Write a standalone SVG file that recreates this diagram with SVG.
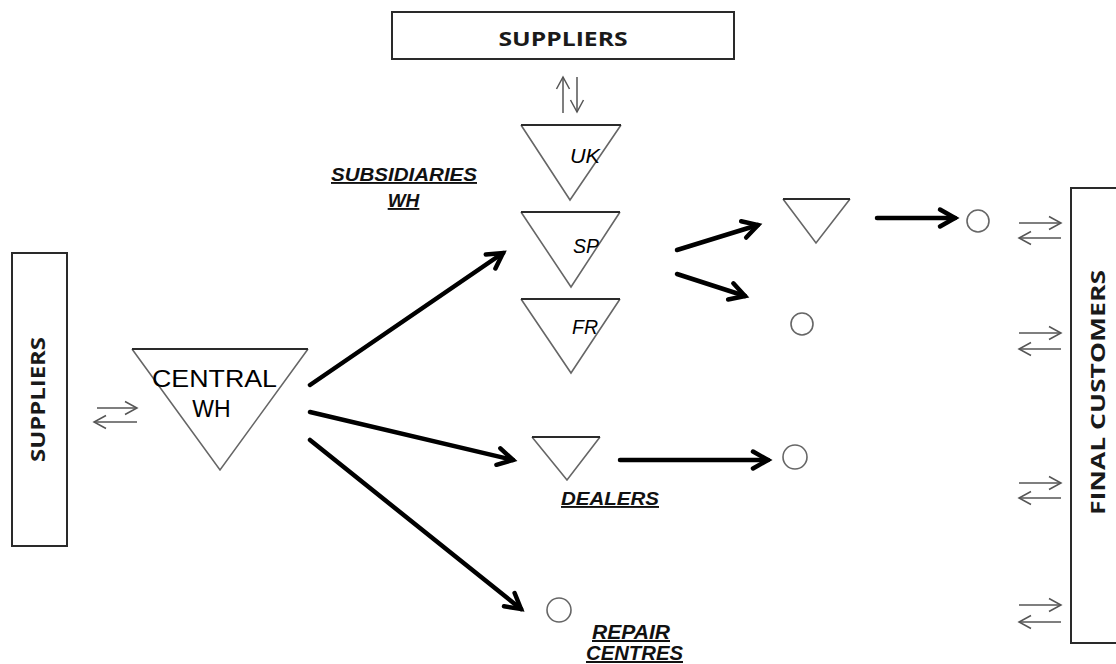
<svg xmlns="http://www.w3.org/2000/svg" width="1116" height="664" viewBox="0 0 1116 664">
<style>
.box{fill:none;stroke:#2a2a2a;stroke-width:2}
.boxlbl{font-family:"Open Sans","Noto Sans",sans-serif;font-weight:700;font-size:20px;fill:#1a1a1a}
.tri{fill:none;stroke:#666;stroke-width:1.6;stroke-linejoin:miter}
.tritop{stroke:#2a2a2a;stroke-width:2.2}
.circ{fill:none;stroke:#666;stroke-width:1.6}
.ital{font-family:"Liberation Sans",Arial,sans-serif;font-style:italic;font-size:20px;fill:#000}
.lbl{font-family:"Liberation Sans",Arial,sans-serif;font-style:italic;font-weight:700;font-size:19px;fill:#111;text-decoration:underline}
.cw{font-family:"Liberation Sans",Arial,sans-serif;font-size:23px;fill:#000}
.thick{stroke:#000;stroke-width:4.5;fill:none;stroke-linecap:round;marker-end:url(#hd)}
.thin{stroke:#555;stroke-width:1.5;fill:none;marker-end:url(#th)}
</style>
<defs>
<marker id="hd" markerUnits="userSpaceOnUse" viewBox="-20 -15 30 30" markerWidth="30" markerHeight="30" refX="0" refY="0" orient="auto" overflow="visible">
<path d="M-15,-8.5 L0,0 L-15,8.5" fill="none" stroke="#000" stroke-width="4.5" stroke-linecap="round"/>
</marker>
<marker id="th" markerUnits="userSpaceOnUse" viewBox="-15 -10 20 20" markerWidth="20" markerHeight="20" refX="0" refY="0" orient="auto" overflow="visible">
<path d="M-12,-6.5 L0,0 L-12,6.5" fill="none" stroke="#555" stroke-width="1.5"/>
</marker>
</defs>

<g id="suppliers-top">
<rect class="box" x="392" y="12" width="342" height="47"/>
<text class="boxlbl" x="563" y="46" text-anchor="middle" textLength="129" lengthAdjust="spacingAndGlyphs">SUPPLIERS</text>
</g>
<g id="suppliers-left">
<rect class="box" x="12" y="253" width="55" height="293"/>
<text class="boxlbl" transform="translate(45,399.5) rotate(-90)" x="0" y="0" text-anchor="middle" textLength="125" lengthAdjust="spacingAndGlyphs">SUPPLIERS</text>
</g>
<g id="final-customers">
<rect class="box" x="1071" y="188" width="60" height="455"/>
<text class="boxlbl" transform="translate(1105,392.5) rotate(-90)" x="0" y="0" text-anchor="middle" textLength="245" lengthAdjust="spacingAndGlyphs">FINAL CUSTOMERS</text>
</g>

<g id="central-wh">
<path class="tri" d="M132,349 L220,470 L308,349"/>
<line class="tri tritop" x1="132" y1="349" x2="308" y2="349"/>
<text class="cw" x="214.5" y="387" text-anchor="middle" textLength="125" lengthAdjust="spacingAndGlyphs">CENTRAL</text>
<text class="cw" x="211.5" y="417" text-anchor="middle">WH</text>
</g>

<g id="subsidiaries-label">
<text class="lbl" x="404" y="181" text-anchor="middle" textLength="146" lengthAdjust="spacingAndGlyphs">SUBSIDIARIES</text>
<text class="lbl" x="403.5" y="207" text-anchor="middle">WH</text>
</g>

<g id="uk">
<path class="tri" d="M521,125 L570,200 L621,125"/>
<line class="tri tritop" x1="521" y1="125" x2="621" y2="125"/>
<text class="ital" x="570" y="163" textLength="30" lengthAdjust="spacingAndGlyphs">UK</text>
</g>
<g id="sp">
<path class="tri" d="M521,212 L571,287 L620,212"/>
<line class="tri tritop" x1="521" y1="212" x2="620" y2="212"/>
<text class="ital" x="573" y="253" textLength="26" lengthAdjust="spacingAndGlyphs">SP</text>
</g>
<g id="fr">
<path class="tri" d="M521,299 L571,373 L620,299"/>
<line class="tri tritop" x1="521" y1="299" x2="620" y2="299"/>
<text class="ital" x="572" y="334" textLength="26" lengthAdjust="spacingAndGlyphs">FR</text>
</g>

<g id="sub-wh-right">
<path class="tri" d="M783,199 L816,243 L850,199"/>
<line class="tri tritop" x1="783" y1="199" x2="850" y2="199"/>
</g>
<g id="sub-circle">
<circle class="circ" cx="802" cy="324" r="11"/>
</g>
<g id="sub-customer-circle">
<circle class="circ" cx="978" cy="221" r="11"/>
</g>

<g id="dealers">
<path class="tri" d="M532,437 L567,480 L600,437"/>
<line class="tri tritop" x1="532" y1="437" x2="600" y2="437"/>
<text class="lbl" x="610" y="505" text-anchor="middle" textLength="98" lengthAdjust="spacingAndGlyphs">DEALERS</text>
</g>
<g id="dealer-circle">
<circle class="circ" cx="795" cy="457" r="12"/>
</g>

<g id="repair-centres">
<circle class="circ" cx="559" cy="610" r="12"/>
<text class="lbl" x="631" y="639" text-anchor="middle" textLength="78" lengthAdjust="spacingAndGlyphs" style="font-size:20px">REPAIR</text>
<text class="lbl" x="634.5" y="660" text-anchor="middle" textLength="97" lengthAdjust="spacingAndGlyphs" style="font-size:20px">CENTRES</text>
</g>

<g id="connectors">
<line class="thick" x1="310" y1="385" x2="503" y2="253"/>
<line class="thick" x1="310" y1="412" x2="513" y2="460"/>
<line class="thick" x1="310" y1="440" x2="521" y2="609"/>
<line class="thick" x1="677" y1="250" x2="758" y2="225"/>
<line class="thick" x1="677" y1="274" x2="745" y2="296"/>
<line class="thick" x1="620" y1="460" x2="768" y2="460"/>
<line class="thick" x1="877" y1="218" x2="955" y2="218"/>

<line class="thin" x1="563" y1="113" x2="563" y2="77"/>
<line class="thin" x1="577" y1="77" x2="577" y2="112"/>

<line class="thin" x1="97" y1="408" x2="137" y2="408"/>
<line class="thin" x1="137" y1="422" x2="94" y2="422"/>

<line class="thin" x1="1019" y1="223" x2="1061" y2="223"/>
<line class="thin" x1="1061" y1="238" x2="1019" y2="238"/>
<line class="thin" x1="1019" y1="333" x2="1061" y2="333"/>
<line class="thin" x1="1061" y1="349" x2="1019" y2="349"/>
<line class="thin" x1="1019" y1="483" x2="1061" y2="483"/>
<line class="thin" x1="1061" y1="498" x2="1019" y2="498"/>
<line class="thin" x1="1019" y1="605" x2="1061" y2="605"/>
<line class="thin" x1="1061" y1="622" x2="1019" y2="622"/>
</g>
</svg>
